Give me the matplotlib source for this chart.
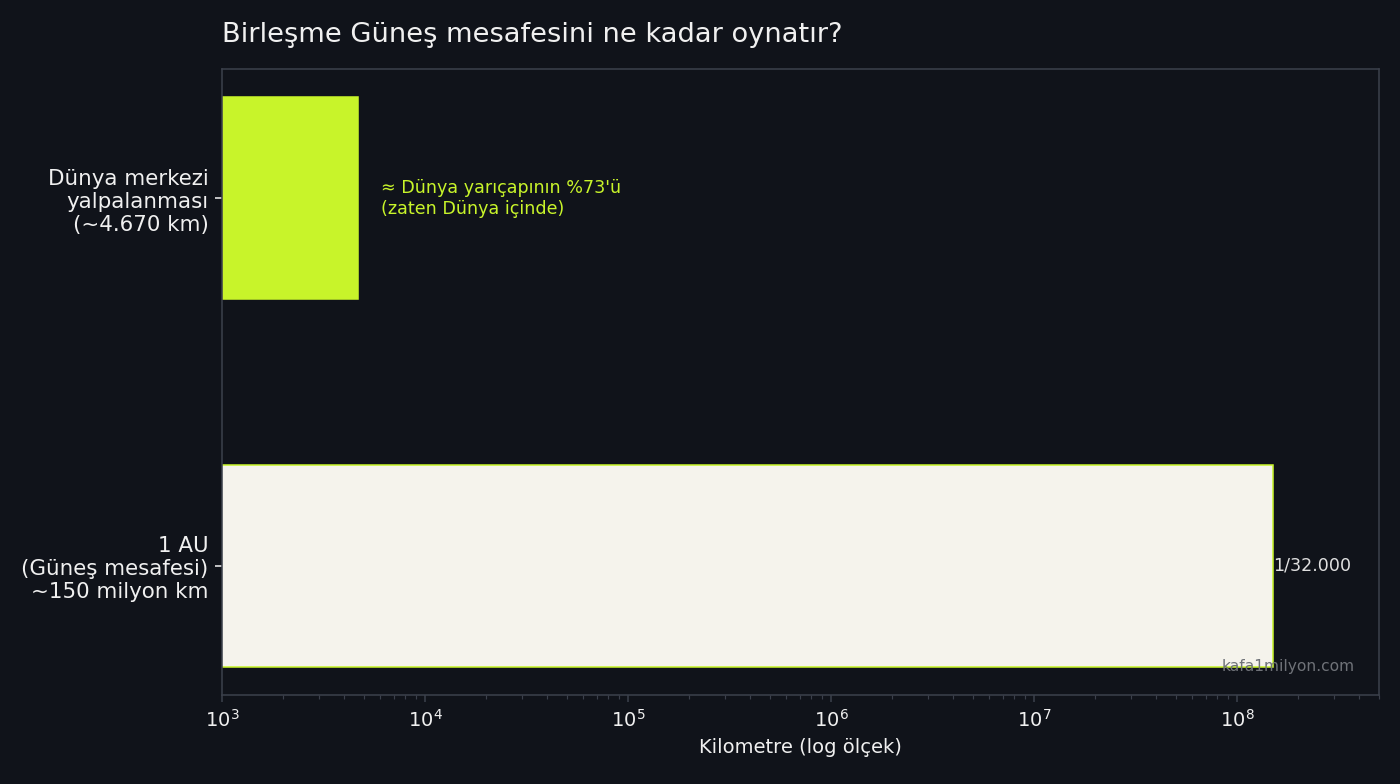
import matplotlib
matplotlib.use("Agg")
import matplotlib.pyplot as plt

plt.rcParams["font.family"] = ["DejaVu Sans"]

# data
labels = ["Dünya merkezi\nyalpalanması\n(~4.670 km)", "1 AU\n(Güneş mesafesi)\n~150 milyon km"]
values_km = [4670, 1.496e8]
bar_colors = ["#c8f42a", "#f5f3ec"]
note_text = "≈ Dünya yarıçapının %73'ü\n(zaten Dünya içinde)"
ratio_text = "1/32.000"

BG = "#10131a"
FG = "#f0f0f0"
LIME = "#c8f42a"
SPINE = "#3b404b"

fig = plt.figure(figsize=(10, 5.6), dpi=140, facecolor=BG)
ax = fig.add_axes([0.1586, 0.1135, 0.8264, 0.7985])
ax.set_facecolor(BG)

ypos = [0, 1]
ax.barh(ypos, values_km, height=0.55, color=bar_colors,
        edgecolor=[bar_colors[0], LIME], linewidth=0.8)
ax.set_xscale("log")
ax.set_xlim(1e3, 5e8)
ax.set_ylim(1.3525, -0.3525)
ax.set_yticks(ypos)
ax.set_yticklabels(labels, fontsize=11, color=FG)

ax.text(values_km[0] * 1.3, 0, note_text, color=LIME, fontsize=9, va="center", ha="left")
ax.text(values_km[1] * 1.01, 1, ratio_text, color="#e0e0e0", fontsize=9, va="center", ha="left")
ax.text(0.979, 0.046, "kafa1milyon.com", transform=ax.transAxes, color="#6f7278",
        fontsize=8, ha="right", va="center")

ax.set_xlabel("Kilometre (log ölçek)", color=FG, fontsize=10)
ax.set_title("Birleşme Güneş mesafesini ne kadar oynatır?", loc="left", color=FG,
             fontsize=14, pad=14)
ax.tick_params(axis="x", colors=SPINE, labelcolor=FG, labelsize=10)
ax.tick_params(axis="x", which="minor", colors=SPINE)
ax.tick_params(axis="y", colors=FG, labelcolor=FG)
for s in ax.spines.values():
    s.set_color(SPINE)

fig.savefig("out.png", dpi=140, facecolor=BG)
